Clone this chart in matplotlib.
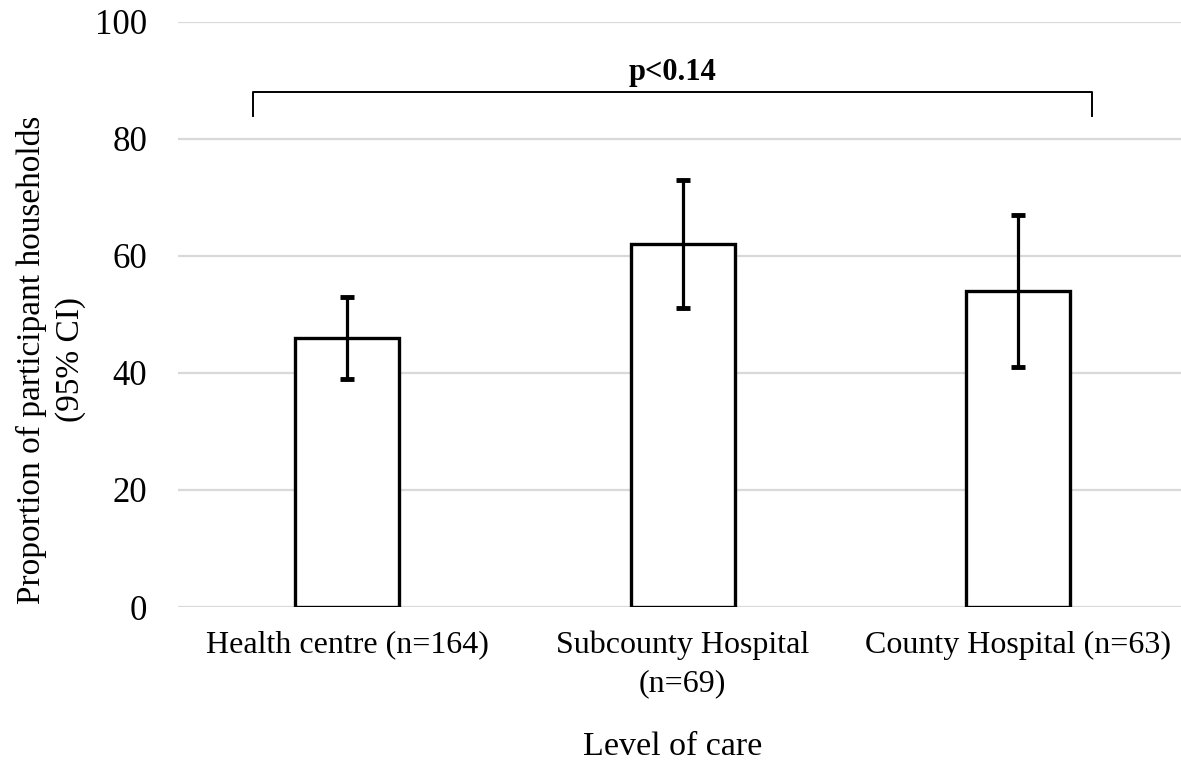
import matplotlib
matplotlib.use("Agg")
import matplotlib.pyplot as plt
import numpy as np

# data
categories = ["Health centre (n=164)", "Subcounty Hospital\n(n=69)", "County Hospital (n=63)"]
proportions = [46, 62, 54]
ci_low = [39, 51, 41]
ci_high = [53, 73, 67]
p_text = "p<0.14"

plt.rcParams["font.family"] = ["Liberation Serif", "DejaVu Serif"]

fig = plt.figure(figsize=(11.81, 7.61), dpi=100)
ax = fig.add_axes([178 / 1181, 1 - 607 / 761, 1 - 178 / 1181, (607 - 21.7) / 761])

x = np.arange(len(categories))
vals = np.array(proportions)
yerr = np.array([vals - np.array(ci_low), np.array(ci_high) - vals])

ax.bar(x, vals, width=0.31, color="white", edgecolor="black", linewidth=2.4, zorder=3)
ax.errorbar(x, vals, yerr=yerr, fmt="none", ecolor="black", elinewidth=2.3,
            capsize=5, capthick=3.5, zorder=4)

ax.set_xlim(-0.504, 2.486)
ax.set_ylim(0, 100)
ax.set_yticks(np.arange(0, 101, 20))
ax.grid(axis="y", color="#d9d9d9", linewidth=1.6, zorder=0)
ax.set_axisbelow(True)
for s in ax.spines.values():
    s.set_visible(False)

ax.set_xticks(x)
ax.set_xticklabels(categories, fontsize=23, linespacing=1.42)
ax.tick_params(axis="x", length=0, pad=17)
ax.tick_params(axis="y", length=0, pad=22, labelsize=25)

# significance bracket across the three groups
br_y, br_drop = 88.0, 4.1
bx0, bx1 = x[0] - 0.28, x[-1] + 0.22
ax.plot([bx0, bx0, bx1, bx1], [br_y - br_drop, br_y, br_y, br_y - br_drop],
        color="black", linewidth=1.4, clip_on=False)
ax.text(0.97, 91.3, p_text, ha="center", va="center", fontsize=22, fontweight="bold")

fig.text(673 / 1181, 1 - 747 / 761, "Level of care", ha="center", va="center", fontsize=24.5)
fig.text(51 / 1181, 1 - 360 / 761, "Proportion of participant households\n(95% CI)",
         rotation=90, ha="center", va="center", fontsize=24, linespacing=1.35)

fig.savefig("out.png", dpi=100)
